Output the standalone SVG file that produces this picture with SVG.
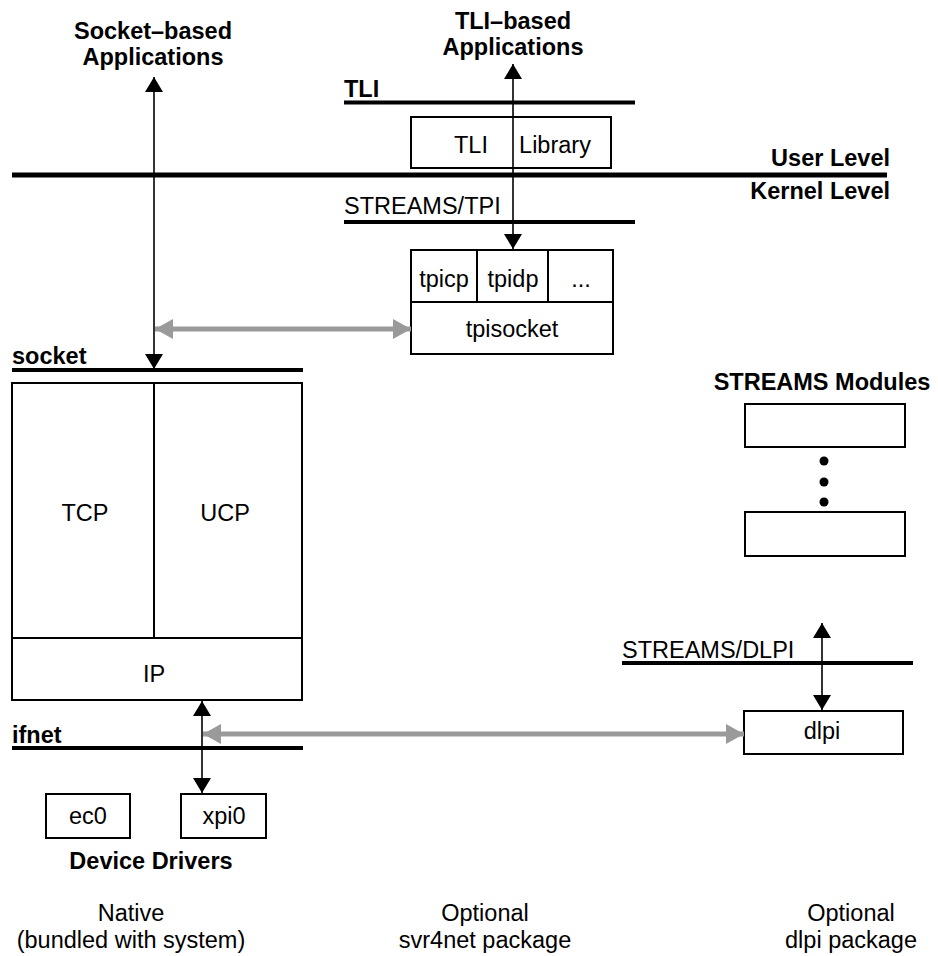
<svg xmlns="http://www.w3.org/2000/svg" width="938" height="956" viewBox="0 0 938 956">
<style>
text{font-family:"Liberation Sans",Arial,Helvetica,sans-serif;font-size:23.5px;fill:#000}
.b{font-weight:bold}
.m{text-anchor:middle}
.e{text-anchor:end}
.box{fill:#fff;stroke:#000;stroke-width:2}
.lvl{stroke:#000;stroke-width:4}
.ar{stroke:#000;stroke-width:1.6;fill:none}
.gr{stroke:#9a9a9a;stroke-width:5;fill:none}
</style>
<defs>
<marker id="ah" markerUnits="userSpaceOnUse" markerWidth="16" markerHeight="19" refX="15" refY="9" orient="auto-start-reverse" viewBox="0 0 16 18"><path d="M0,0 L15,9 L0,18 z" fill="#000"/></marker>
<marker id="gh" markerUnits="userSpaceOnUse" markerWidth="19" markerHeight="21" refX="18" refY="10" orient="auto-start-reverse" viewBox="0 0 19 20"><path d="M0,0 L18,10 L0,20 z" fill="#9a9a9a"/></marker>
</defs>
<rect width="938" height="956" fill="#fff"/>

<g id="labels-top">
<text class="b m" x="153" y="39">Socket–based</text>
<text class="b m" x="153" y="65">Applications</text>
<text class="b m" x="513" y="29">TLI–based</text>
<text class="b m" x="513" y="55">Applications</text>
</g>

<g id="levels">
<text class="b" x="344" y="97">TLI</text>
<line class="lvl" x1="344" y1="102.5" x2="635" y2="102.5"/>
<line x1="12" y1="175" x2="887" y2="175" stroke="#000" stroke-width="5"/>
<text class="b e" x="890" y="166">User Level</text>
<text class="b e" x="890" y="199">Kernel Level</text>
<text x="344" y="214">STREAMS/TPI</text>
<line class="lvl" x1="344" y1="222" x2="635" y2="222"/>
<text class="b" x="12" y="364">socket</text>
<line class="lvl" x1="12" y1="370" x2="303" y2="370"/>
<text class="b" x="12" y="743">ifnet</text>
<line class="lvl" x1="12" y1="748" x2="303" y2="748"/>
<text x="622" y="658">STREAMS/DLPI</text>
<line class="lvl" x1="622" y1="663" x2="913" y2="663"/>
</g>

<g id="tli-library">
<rect class="box" x="411" y="117" width="200" height="51"/>
<text class="m" x="471" y="153">TLI</text>
<text class="m" x="555" y="153">Library</text>
</g>

<g id="tpi-stack">
<rect class="box" x="411" y="250" width="202" height="104"/>
<line x1="411" y1="302" x2="613" y2="302" stroke="#000" stroke-width="2"/>
<line x1="477" y1="250" x2="477" y2="302" stroke="#000" stroke-width="2"/>
<line x1="548" y1="250" x2="548" y2="302" stroke="#000" stroke-width="2"/>
<text class="m" x="444" y="287">tpicp</text>
<text class="m" x="513" y="287">tpidp</text>
<text class="m" x="581" y="287">...</text>
<text class="m" x="512" y="337">tpisocket</text>
</g>

<g id="inet-stack">
<rect class="box" x="12" y="383" width="290" height="317"/>
<line x1="12" y1="638" x2="302" y2="638" stroke="#000" stroke-width="2"/>
<line x1="154" y1="383" x2="154" y2="638" stroke="#000" stroke-width="2"/>
<text class="m" x="85" y="521">TCP</text>
<text class="m" x="225" y="521">UCP</text>
<text class="m" x="154" y="682">IP</text>
</g>

<g id="ec0">
<rect class="box" x="46" y="794" width="84" height="44"/>
<text class="m" x="88" y="824">ec0</text>
</g>
<g id="xpi0">
<rect class="box" x="181" y="794" width="85" height="44"/>
<text class="m" x="224" y="824">xpi0</text>
</g>
<text class="b m" x="151" y="869">Device Drivers</text>

<g id="streams-modules">
<text class="b m" x="822" y="390">STREAMS Modules</text>
<rect class="box" x="745" y="404" width="160" height="43"/>
<circle cx="824" cy="461" r="4.5" fill="#000"/>
<circle cx="824" cy="482" r="4.5" fill="#000"/>
<circle cx="824" cy="502" r="4.5" fill="#000"/>
<rect class="box" x="745" y="512" width="160" height="44"/>
</g>

<g id="dlpi">
<rect class="box" x="744" y="711" width="159" height="43"/>
<text class="m" x="822" y="739">dlpi</text>
</g>

<g id="connectors">
<line class="ar" x1="154" y1="77" x2="154" y2="369" marker-start="url(#ah)" marker-end="url(#ah)"/>
<line class="ar" x1="513" y1="64" x2="513" y2="249" marker-start="url(#ah)" marker-end="url(#ah)"/>
<line class="ar" x1="202" y1="701" x2="202" y2="793" marker-start="url(#ah)" marker-end="url(#ah)"/>
<line class="ar" x1="822" y1="623" x2="822" y2="710" marker-start="url(#ah)" marker-end="url(#ah)"/>
<line class="gr" x1="155" y1="329" x2="411" y2="329" marker-start="url(#gh)" marker-end="url(#gh)"/>
<line class="gr" x1="203" y1="734" x2="744" y2="734" marker-start="url(#gh)" marker-end="url(#gh)"/>
</g>

<g id="footer">
<text class="m" x="131" y="921">Native</text>
<text class="m" x="131" y="948">(bundled with system)</text>
<text class="m" x="485" y="921">Optional</text>
<text class="m" x="485" y="948">svr4net package</text>
<text class="m" x="851" y="921">Optional</text>
<text class="m" x="851" y="948">dlpi package</text>
</g>
</svg>
